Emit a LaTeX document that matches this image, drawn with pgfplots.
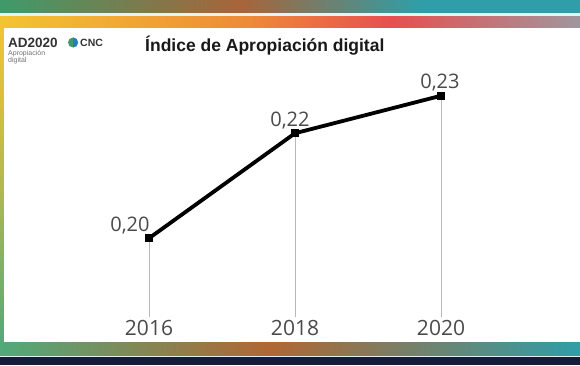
\documentclass[border=0pt]{standalone}
\usepackage{pgfplots}
\pgfplotsset{compat=1.18}
\usepackage{fontspec}
\setmainfont{Open Sans}
\newfontfamily\titlefont{Liberation Sans}
\definecolor{navy}{HTML}{151B3A}
\definecolor{tgreen}{HTML}{3F9A6A}
\definecolor{tbrown}{HTML}{A8643A}
\definecolor{tteal}{HTML}{2F9EA8}
\definecolor{byellow}{HTML}{F3C431}
\definecolor{borange}{HTML}{EE8A38}
\definecolor{bred}{HTML}{E65050}
\definecolor{bgray}{HTML}{A0969E}
\definecolor{lgreen}{HTML}{52A97A}
\definecolor{txt}{HTML}{4A4A4A}
\definecolor{dropc}{HTML}{B8B8B8}
\begin{document}
\begin{tikzpicture}[x=1pt,y=1pt]
% frame / decorations
\fill[navy] (0,0) rectangle (580,8);
\fill[white!85!tteal] (0,8) rectangle (580,10);
\shade[left color=lgreen, right color=tbrown!90!orange] (0,10) rectangle (270,23);
\shade[left color=tbrown!90!orange, right color=tteal] (270,10) rectangle (580,23);
\shade[top color=byellow, bottom color=lgreen, middle color=byellow!60!lgreen] (0,23) rectangle (4,337);
\fill[white] (4,23) rectangle (580,337);
\shade[left color=byellow, right color=borange] (0,337) rectangle (250,349);
\shade[left color=borange, right color=bred] (250,337) rectangle (390,349);
\shade[left color=bred, right color=bgray] (390,337) rectangle (580,349);
\fill[white!88!tteal] (0,349) rectangle (580,352);
\shade[left color=tgreen, right color=tbrown] (0,352) rectangle (240,365);
\shade[left color=tbrown, right color=tteal] (240,352) rectangle (420,365);
\fill[tteal] (420,352) rectangle (580,365);
% logo
\node[anchor=base west, inner sep=0, text=black!80] at (8,317.5) {\titlefont\bfseries\fontsize{13.5}{15}\selectfont AD2020};
\node[anchor=base west, inner sep=0, text=black!55] at (8,309.5) {\titlefont\fontsize{7}{8}\selectfont Apropiación};
\node[anchor=base west, inner sep=0, text=black!55] at (8,302.5) {\titlefont\fontsize{7}{8}\selectfont digital};
\fill[tgreen] (73,322.5) circle (5);
\fill[tteal!80!blue] (73,322.5) ++(-90:5) arc (-90:90:5) -- cycle;
\node[anchor=base west, inner sep=0, text=black!80] at (80,318) {\titlefont\bfseries\fontsize{10.5}{12}\selectfont CNC};
% title
\node[anchor=base west, inner sep=0, text=black!90] at (145,313) {\titlefont\bfseries\fontsize{17.5}{20}\selectfont Índice de Apropiación digital};
\pgfplotstableread{
x y label dx
2016 0.196 {0,20} -19
2018 0.224 {0,22} -5
2020 0.234 {0,23} -1
}\datatable
\begin{axis}[
  at={(39.5pt,48pt)}, anchor=south west,
  scale only axis, width=511pt, height=281.25pt,
  xmin=2014.5, xmax=2021.5, ymin=0.175, ymax=0.25,
  axis line style={draw=none}, major tick length=0pt,
  ytick=\empty, xtick={2016,2018,2020}, xticklabels={2016,2018,2020},
  xticklabel style={anchor=north, inner sep=0pt, yshift=-3pt, text=txt, font=\fontsize{21}{24}\selectfont},
]
\addplot[ycomb, dropc, line width=1pt] table[x=x,y=y] {\datatable};
\addplot[black, line width=3.8pt, mark=square*, mark size=3.6pt,
  mark options={line width=0pt},
  point meta=explicit symbolic,
  visualization depends on={\thisrow{dx} \as \dx},
  nodes near coords,
  every node near coord/.append style={anchor=base, inner sep=0pt, yshift=7pt, xshift=\dx pt, text=txt, font=\fontsize{20}{24}\selectfont},
] table[x=x,y=y,meta=label] {\datatable};
\end{axis}
\end{tikzpicture}
\end{document}
